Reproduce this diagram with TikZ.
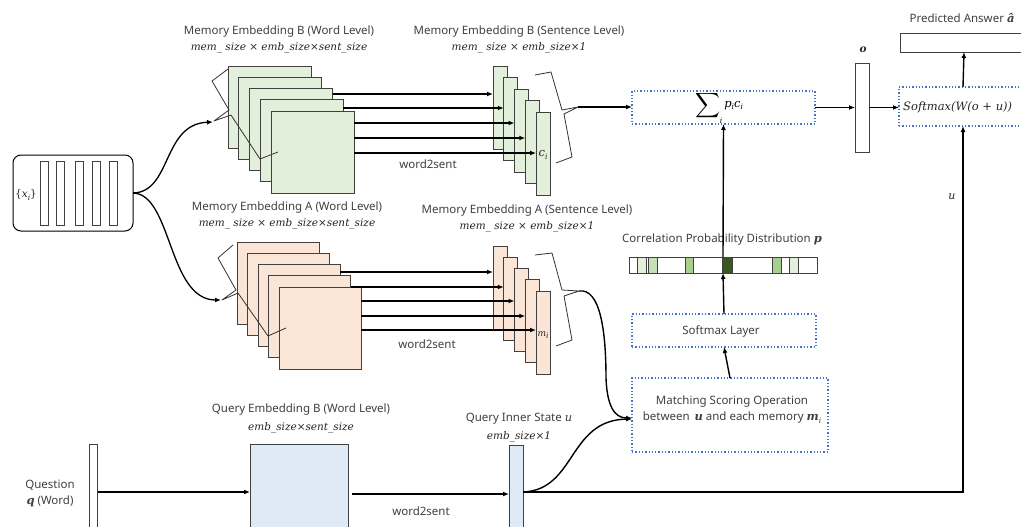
\documentclass[tikz,border=0pt]{standalone}
\usepackage{amsmath,bm}
\usepackage[no-math]{fontspec}
\setmainfont{Noto Sans}
\newfontfamily\mfont{DejaVu Serif}
\usetikzlibrary{arrows.meta}
\newcommand\mi[1]{{\mfont\itshape #1}}
\newcommand\mbi[1]{{\mfont\bfseries\itshape #1}}
\newcommand\sbi{\raisebox{-0.4ex}{\mfont\itshape\fontsize{7.5}{8}\selectfont i}}
\definecolor{grn}{HTML}{E2EFDA}
\definecolor{org}{HTML}{FBE5D6}
\definecolor{blu}{HTML}{DEEBF7}
\definecolor{dotc}{HTML}{4472C4}
\definecolor{txt}{HTML}{404040}
\definecolor{edge}{HTML}{404040}
\definecolor{gA}{HTML}{E2EFDA}
\definecolor{gB}{HTML}{C5E0B4}
\definecolor{gC}{HTML}{A9D18E}
\definecolor{gD}{HTML}{385723}
\tikzset{
 box/.style={draw=edge, line width=0.9pt, inner sep=0pt, outer sep=0pt, anchor=north west},
 wb/.style={box, fill=grn, minimum width=83pt, minimum height=82pt},
 wa/.style={box, fill=org, minimum width=82pt, minimum height=82pt},
 sbox/.style={box, fill=grn, minimum width=14pt, minimum height=83pt},
 sabox/.style={box, fill=org, minimum width=14pt, minimum height=83pt},
 op/.style={draw=dotc, dotted, line width=1.3pt, inner sep=0pt, outer sep=0pt, anchor=north west},
 lbl/.style={text=txt, font=\fontsize{11.5}{16}\selectfont, inner sep=0pt},
 dim/.style={text=black!85, font=\mfont\itshape\fontsize{10.5}{13}\selectfont, inner sep=0pt},
 arr/.style={line width=1.4pt, -{Latex[length=6pt,width=5pt]}},
 brc/.style={line width=0.8pt, draw=black!80, line join=round},
 cell/.style={box, line width=0.7pt, minimum height=16pt},
}
\begin{document}
\begin{tikzpicture}[x=1pt,y=-1pt]
\useasboundingbox (0,0) rectangle (1021,527);
\fill[white] (0,0) rectangle (1021,527);
\clip (0,0) rectangle (1021,527);

% ---------- input box ----------
\node[box, draw=black, line width=1pt, rounded corners=8pt, minimum width=120pt, minimum height=76pt] (xbox) at (13,155) {};
\foreach \xx/\n in {40/1,56/2,75/3,92/4,109/5}
  \node[box, line width=0.9pt, minimum width=8pt, minimum height=64pt] (xb\n) at (\xx,161) {};
\node[dim, font=\mfont\fontsize{10.5}{13}\selectfont] (xl) at (26,195) {\{\mi{x}\sbi\}};

% ---------- memory B word level ----------
\foreach \i in {0,...,4}
  \node[wb] (b\i) at ({228+10.75*\i},{66+11.25*\i}) {};
\foreach \i in {0,...,4}
  \node[sbox] (sb\i) at ({493+10.75*\i},{66+11.5*\i}) {};
\draw[arr] (b2.east |- 0,94) -- (sb0.west |- 0,94);
\draw[arr] (b3.east |- 0,108) -- (sb1.west |- 0,108);
\draw[arr] (b4.east |- 0,123) -- (sb2.west |- 0,123);
\draw[arr] (b4.east |- 0,138) -- (sb3.west |- 0,138);
\draw[arr] (b4.east |- 0,153) -- (sb4.west |- 0,153);
\draw[brc] (228,69)--(212,81)--(229,110)--(214,121)--(231,115)--(260,159)--(278,152);
\coordinate (tbw) at (213,122);
\draw[brc] (535,75)--(551,72)--(562,110)--(578,107)--(564,114)--(572,157)--(556,163);
\coordinate (tbs) at (578,107);
\node[dim, font=\mfont\itshape\fontsize{11.5}{13}\selectfont] (cil) at (543,155) {c\sbi};

\node[lbl] (lbw) at (279,32) {Memory Embedding B (Word Level)};
\node[dim] (lbwm) at (279,48) {mem\_ size × emb\_size×sent\_size};
\node[lbl] (lbs) at (519,32) {Memory Embedding B (Sentence Level)};
\node[dim] (lbsm) at (519,48) {mem\_ size × emb\_size×1};
\node[lbl] (w2sb) at (428,164) {word2sent};

% ---------- memory A word level ----------
\foreach \i in {0,...,4}
  \node[wa] (a\i) at ({237+10.5*\i},{242+11.25*\i}) {};
\foreach \i in {0,...,4}
  \node[sabox] (sa\i) at ({493+10.75*\i},{246+11.25*\i}) {};
\draw[arr] (a2.east |- 0,272) -- (sa0.west |- 0,272);
\draw[arr] (a3.east |- 0,287) -- (sa1.west |- 0,287);
\draw[arr] (a4.east |- 0,301) -- (sa2.west |- 0,301);
\draw[arr] (a4.east |- 0,316) -- (sa3.west |- 0,316);
\draw[arr] (a4.east |- 0,330) -- (sa4.west |- 0,330);
\draw[brc] (233,245)--(218,258)--(236,290)--(222,300)--(238,293)--(268,336)--(286,328);
\coordinate (taw) at (221,300);
\draw[brc] (535,255)--(552,253)--(562,290)--(579,291)--(564,296)--(572,340)--(556,346);
\coordinate (tas) at (579,291);
\node[dim, font=\mfont\itshape\fontsize{9}{11}\selectfont] (mil) at (543,335) {m\sbi};

\node[lbl] (law) at (287,208) {Memory Embedding A (Word Level)};
\node[dim] (lawm) at (287,224) {mem\_ size × emb\_size×sent\_size};
\node[lbl] (las) at (527,211) {Memory Embedding A (Sentence Level)};
\node[dim] (lasm) at (527,227) {mem\_ size × emb\_size×1};
\node[lbl] (w2sa) at (427,344) {word2sent};

% ---------- input curves ----------
\draw[line width=1.3pt, -{Latex[length=6pt,width=5pt]}] (xbox.east) .. controls (172,192) and (162,124) .. (tbw);
\draw[line width=1.3pt, -{Latex[length=6pt,width=5pt]}] (xbox.east) .. controls (172,194) and (168,300) .. (taw);

% ---------- attention part ----------
\node[op, minimum width=183pt, minimum height=33pt] (sum) at (632,91) {};
\node[inner sep=0pt, font=\fontsize{17}{18}\selectfont] (sumt) at (719,108) {$\displaystyle\sum\nolimits_{\mbox{\sbi}}$\hspace{1.5pt}\raisebox{3pt}{\mfont\itshape\fontsize{11.5}{13}\selectfont p\sbi c\sbi}};
\node[box, fill=white, minimum width=14pt, minimum height=89pt] (o) at (855,63) {};
\node[dim, font=\mfont\bfseries\itshape\fontsize{10.5}{13}\selectfont] (ol) at (863,50) {o};
\node[op, minimum width=128pt, minimum height=39pt] (soft) at (899,87) {};
\node[dim, anchor=west, font=\mfont\itshape\fontsize{11.5}{13}\selectfont] (softt) at (903,107) {Softmax(W(o + u))};
\node[box, minimum width=128pt, minimum height=19pt] (pa) at (900,33) {};
\node[lbl] (pal) at (962,18) {Predicted Answer \mbi{â}};

\draw[arr] (tbs) -- (sum.west |- tbs);
\draw[arr] (sum.east) -- (o.west);
\draw[arr] (o.east) -- (soft.west |- o.east);
\draw[arr] (soft.north) -- (pa.south);

\node[box, fill=white, line width=0.8pt, minimum width=188pt, minimum height=16pt] (dist) at (629,257) {};
\node[cell, fill=gA, minimum width=9pt] (c1) at (637,257) {};
\node[cell, fill=gB, minimum width=9pt] (c2) at (648,257) {};
\node[cell, fill=gC, minimum width=8.5pt] (c3) at (685,257) {};
\node[cell, fill=gD, minimum width=10pt] (c4) at (722,257) {};
\node[cell, fill=gC, minimum width=9.5pt] (c5) at (772,257) {};
\node[cell, fill=gA, minimum width=9pt] (c6) at (789,257) {};
\node[lbl] (distl) at (722,240) {Correlation Probability Distribution \mbi{p}};

\node[op, minimum width=184pt, minimum height=33pt] (sml) at (632,314) {};
\node[lbl] (smlt) at (721,331) {Softmax Layer};
\node[op, minimum width=196pt, minimum height=74pt] (match) at (632,378) {};
\node[lbl, align=center] (matcht) at (732,410) {Matching Scoring Operation\\between \,\mbi{u} and each memory \mbi{m}\sbi};

\draw[arr] (match.north) -- (sml.south);
\draw[arr] (sml.north) -- (dist.south);
\draw[arr] (dist.north) -- (sum.south);

% ---------- query part ----------
\node[box, fill=white, minimum width=8.5pt, minimum height=100pt] (qbar) at (89,444) {};
\node[lbl, align=center] (ql) at (50,493) {Question\\\mbi{q} (Word)};
\node[box, fill=blu, minimum width=98pt, minimum height=100pt] (qemb) at (250,444) {};
\node[lbl] (qeml) at (301,410) {Query Embedding B (Word Level)};
\node[dim] (qemm) at (301,428) {emb\_size×sent\_size};
\node[box, fill=blu, minimum width=14pt, minimum height=100pt] (qi) at (509,445) {};
\node[lbl] (qil) at (519,419) {Query Inner State \mi{u}};
\node[dim] (qim) at (519,437) {emb\_size×1};
\node[lbl] (w2sq) at (421,511) {word2sent};

\draw[arr] (qbar.east |- 0,492) -- (qemb.west |- 0,492);
\draw[arr] ([xshift=4pt]qemb.east) -- (qi.west |- qemb.east);
\draw[arr] (qi.east |- 0,492) -| (soft.south);
\node[dim, font=\mfont\itshape\fontsize{11}{13}\selectfont] (ul) at (952,197) {u};
\draw[arr] (qi.east |- 0,492) .. controls (576,490) and (568,420) .. (match.west |- 0,419);
\draw[arr] (tas) .. controls (600,288) and (606,330) .. (606,378) .. controls (607,405) and (614,418) .. (match.west |- 0,418);
\end{tikzpicture}
\end{document}
